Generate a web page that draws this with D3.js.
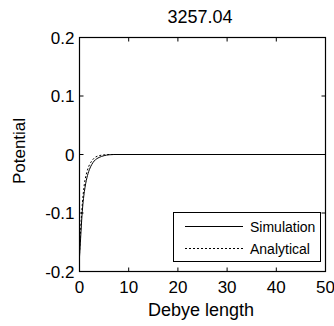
<!DOCTYPE html>
<html>
<head>
<meta charset="utf-8">
<script src="https://cdn.jsdelivr.net/npm/d3@7"></script>
<style>
  body { margin: 0; background: #fff; }
  svg { display: block; font-family: "Liberation Sans", Arial, sans-serif; }
</style>
</head>
<body>
<svg id="chart" width="334" height="326"></svg>
<script>
var title = "3257.04";
var xTicks = [0, 10, 20, 30, 40, 50];
var yTicks = [-0.2, -0.1, 0, 0.1, 0.2];

// Debye length vs potential
var simX = [0, 0.25, 0.5, 0.75, 1, 1.5, 2, 2.5, 3, 4, 5, 6, 7, 50];
var simY = [-0.175, -0.14, -0.105, -0.08, -0.063, -0.04, -0.026, -0.017, -0.011, -0.005, -0.002, -0.0005, 0, 0];
var anaX = [0, 0.25, 0.5, 0.75, 1, 1.5, 2, 2.5, 3, 4, 5, 6, 50];
var anaY = [-0.17, -0.125, -0.093, -0.068, -0.05, -0.03, -0.018, -0.011, -0.006, -0.002, -0.0006, 0, 0];

var svg = d3.select('#chart');
var pLeft = 79.5, pRight = 325.5, pTop = 37.5, pBottom = 271.5;

var x = d3.scaleLinear().domain([0, 50]).range([pLeft, pRight]);
var y = d3.scaleLinear().domain([-0.2, 0.2]).range([pBottom, pTop]);

var g = svg.append('g');

// tick marks inside on all four sides
xTicks.forEach(function(t) {
  g.append('line').attr('x1', x(t)).attr('x2', x(t)).attr('y1', pBottom).attr('y2', pBottom - 4).attr('stroke', '#000');
  g.append('line').attr('x1', x(t)).attr('x2', x(t)).attr('y1', pTop).attr('y2', pTop + 4).attr('stroke', '#000');
  g.append('text').attr('x', x(t)).attr('y', 293).attr('text-anchor', 'middle')
    .attr('font-size', '17px').text(t);
});
yTicks.forEach(function(t) {
  g.append('line').attr('x1', pLeft).attr('x2', pLeft + 4).attr('y1', y(t)).attr('y2', y(t)).attr('stroke', '#000');
  g.append('line').attr('x1', pRight).attr('x2', pRight - 4).attr('y1', y(t)).attr('y2', y(t)).attr('stroke', '#000');
  g.append('text').attr('x', pLeft - 5).attr('y', y(t) + 6).attr('text-anchor', 'end')
    .attr('font-size', '17px').text(t === 0 ? '0' : t.toFixed(1));
});

var line = d3.line().x(function(d) { return x(d[0]); }).y(function(d) { return y(d[1]); }).curve(d3.curveMonotoneX);

g.append('path').datum(d3.zip(anaX, anaY)).attr('d', line)
  .attr('fill', 'none').attr('stroke', '#000').attr('stroke-width', 1).attr('stroke-dasharray', '2,2');
g.append('path').datum(d3.zip(simX, simY)).attr('d', line)
  .attr('fill', 'none').attr('stroke', '#000').attr('stroke-width', 1);

// box
g.append('rect').attr('x', pLeft).attr('y', pTop).attr('width', pRight - pLeft).attr('height', pBottom - pTop)
  .attr('fill', 'none').attr('stroke', '#000').attr('stroke-width', 1.2);

// legend
var lg = g.append('g');
lg.append('rect').attr('x', 173.5).attr('y', 212.5).attr('width', 147).attr('height', 49)
  .attr('fill', '#fff').attr('stroke', '#000');
lg.append('line').attr('x1', 185).attr('x2', 243).attr('y1', 226.5).attr('y2', 226.5).attr('stroke', '#000');
lg.append('line').attr('x1', 185).attr('x2', 243).attr('y1', 248.5).attr('y2', 248.5)
  .attr('stroke', '#000').attr('stroke-dasharray', '2,2');
lg.append('text').attr('x', 250).attr('y', 231.5).attr('font-size', '14px').text('Simulation');
lg.append('text').attr('x', 250).attr('y', 253.5).attr('font-size', '14px').text('Analytical');

// labels
svg.append('text').attr('x', 200).attr('y', 22.5).attr('text-anchor', 'middle').attr('font-size', '18px').text(title);
svg.append('text').attr('x', 201).attr('y', 316).attr('text-anchor', 'middle').attr('font-size', '18px').text('Debye length');
svg.append('text').attr('transform', 'translate(25,151) rotate(-90)').attr('text-anchor', 'middle')
  .attr('font-size', '17px').text('Potential');
</script>
</body>
</html>
